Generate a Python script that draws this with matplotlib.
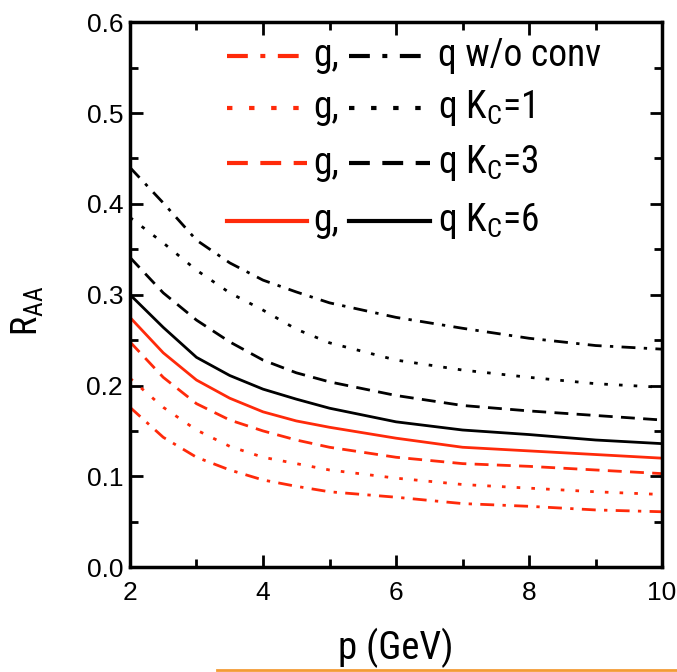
import matplotlib.pyplot as plt
from matplotlib.lines import Line2D

p = [2, 2.5, 3, 3.5, 4, 4.5, 5, 6, 7, 8, 9, 10]

q_noconv = [0.440, 0.401, 0.360, 0.335, 0.316, 0.303, 0.291, 0.275, 0.263, 0.252, 0.244, 0.240]
q_k1 = [0.385, 0.357, 0.327, 0.302, 0.283, 0.262, 0.247, 0.228, 0.217, 0.209, 0.202, 0.198]
q_k3 = [0.341, 0.302, 0.272, 0.248, 0.228, 0.214, 0.204, 0.189, 0.178, 0.172, 0.167, 0.162]
q_k6 = [0.300, 0.264, 0.231, 0.211, 0.196, 0.185, 0.175, 0.160, 0.151, 0.146, 0.140, 0.136]

g_noconv = [0.176, 0.143, 0.121, 0.107, 0.096, 0.089, 0.083, 0.077, 0.070, 0.067, 0.063, 0.061]
g_k1 = [0.208, 0.176, 0.151, 0.133, 0.121, 0.114, 0.107, 0.098, 0.091, 0.087, 0.083, 0.080]
g_k3 = [0.248, 0.209, 0.180, 0.162, 0.150, 0.140, 0.132, 0.121, 0.114, 0.111, 0.107, 0.103]
g_k6 = [0.275, 0.236, 0.206, 0.186, 0.171, 0.161, 0.154, 0.142, 0.132, 0.128, 0.124, 0.120]

labels = ["q w/o conv", r"q K$_\mathregular{C}$=1", r"q K$_\mathregular{C}$=3", r"q K$_\mathregular{C}$=6"]

RED = '#ff2a0a'
styles = [(0, (5, 3, 1.2, 3)), (0, (1.3, 4)), (0, (5, 3)), '-']

narrow = ['Liberation Sans Narrow', 'Roboto Condensed', 'Liberation Sans', 'DejaVu Sans']
plt.rcParams['font.family'] = ['Liberation Sans', 'DejaVu Sans']
plt.rcParams['mathtext.fontset'] = 'custom'
plt.rcParams['mathtext.rm'] = 'Liberation Sans'

fig = plt.figure(figsize=(6.77, 6.72), dpi=100)
ax = fig.add_axes([0.192, 0.156, 0.786, 0.811])

for g, q, ls in zip([g_noconv, g_k1, g_k3, g_k6], [q_noconv, q_k1, q_k3, q_k6], styles):
    ax.plot(p, q, color='black', lw=2, ls=ls)
    ax.plot(p, g, color=RED, lw=2, ls=ls)

ax.set_xlim(2, 10)
ax.set_ylim(0, 0.6)
ax.set_xticks([2, 4, 6, 8, 10])
ax.set_xticks([3, 5, 7, 9], minor=True)
ax.set_yticks([0.0, 0.1, 0.2, 0.3, 0.4, 0.5, 0.6])
ax.set_yticks([0.05, 0.15, 0.25, 0.35, 0.45, 0.55], minor=True)
ax.set_yticklabels(['0.0', '0.1', '0.2', '0.3', '0.4', '0.5', '0.6'])
ax.tick_params(which='both', direction='in', top=True, right=True, width=2)
ax.tick_params(which='major', length=9, labelsize=19)
ax.tick_params(which='minor', length=6)
ax.tick_params(axis='x', pad=10)
ax.tick_params(axis='y', pad=5)
for s in ax.spines.values():
    s.set_linewidth(2.5)

ax.set_xlabel('p (GeV)', fontsize=28, family=narrow, labelpad=16)
ax.set_ylabel(r'R$_\mathregular{AA}$', fontsize=26, family=narrow)
ax.yaxis.set_label_coords(-0.16, 0.47)

# hand-made two-column legend
rows_y = [0.938, 0.843, 0.741, 0.636]
for y, ls, lab in zip(rows_y, styles, labels):
    ax.add_line(Line2D([0.183, 0.333], [y, y], transform=ax.transAxes, color=RED, lw=3, ls=ls))
    ax.text(0.345, y, 'g,', transform=ax.transAxes, fontsize=27, family=narrow, va='center')
    ax.add_line(Line2D([0.411, 0.564], [y, y], transform=ax.transAxes, color='black', lw=3, ls=ls))
    ax.text(0.578, y, lab, transform=ax.transAxes, fontsize=27, family=narrow, va='center')

fig.add_artist(Line2D([0.32, 1.0], [0.003, 0.003], transform=fig.transFigure, color='#f39c35', lw=2))

fig.savefig('out.png', dpi=100)
